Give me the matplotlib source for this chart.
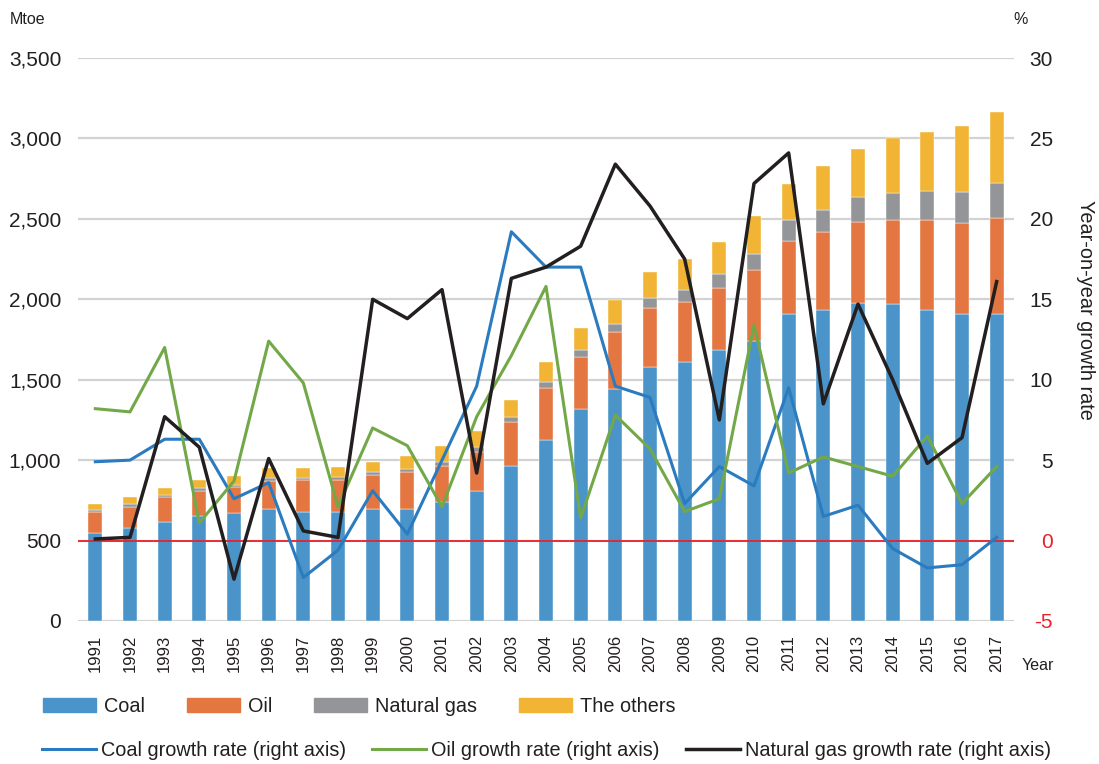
import matplotlib
matplotlib.use("Agg")
import matplotlib.pyplot as plt
from matplotlib.patches import Patch
from matplotlib.lines import Line2D
import numpy as np

plt.rcParams['font.family'] = ['Liberation Sans Narrow', 'Liberation Sans', 'DejaVu Sans']

years = list(range(1991, 2018))

# Primary energy consumption by source (Mtoe)
coal = [550, 580, 615, 655, 670, 694, 680, 676, 696, 698, 738, 806, 962, 1127,
        1318, 1444, 1577, 1610, 1686, 1743, 1908, 1935, 1978, 1969, 1935, 1908, 1908]
oil = [126, 131, 154, 153, 161, 178, 197, 201, 214, 226, 228, 247, 277, 320,
       325, 353, 367, 375, 386, 438, 456, 483, 501, 523, 557, 567, 597]
gas = [14, 16, 14, 17, 15, 15, 14, 16, 14, 21, 21, 27, 31, 37,
       42, 51, 66, 73, 83, 102, 128, 135, 157, 168, 179, 192, 220]
others = [37, 42, 46, 52, 57, 62, 62, 64, 64, 81, 101, 101, 106, 124,
          138, 150, 162, 194, 200, 235, 227, 275, 296, 340, 368, 409, 440]

# Year-on-year growth rates (%)
coal_growth = [4.9, 5.0, 6.3, 6.3, 2.6, 3.6, -2.3, -0.6, 3.1, 0.4, 5.0, 9.6, 19.2, 17.0,
               17.0, 9.6, 8.9, 2.3, 4.6, 3.4, 9.5, 1.5, 2.2, -0.5, -1.7, -1.5, 0.2]
oil_growth = [8.2, 8.0, 12.0, 1.1, 3.7, 12.4, 9.8, 2.1, 7.0, 5.9, 2.1, 7.7, 11.5, 15.8,
              1.4, 7.8, 5.7, 1.8, 2.6, 13.4, 4.2, 5.2, 4.6, 4.0, 6.5, 2.3, 4.6]
gas_growth = [0.1, 0.2, 7.7, 5.8, -2.4, 5.1, 0.6, 0.2, 15.0, 13.8, 15.6, 4.2, 16.3, 17.0,
              18.3, 23.4, 20.8, 17.5, 7.5, 22.2, 24.1, 8.5, 14.7, 10.0, 4.8, 6.4, 16.1]

left_ticks = [0, 500, 1000, 1500, 2000, 2500, 3000, 3500]
right_ticks = [-5, 0, 5, 10, 15, 20, 25, 30]

C_COAL = '#4a94c9'
C_OIL = '#e47641'
C_GAS = '#939598'
C_OTH = '#f1b434'
L_COAL = '#2b7bc0'
L_OIL = '#73a848'
L_GAS = '#231f20'
TXT = '#231f20'
RED = '#e8212b'

W, H = 1099, 764
fig = plt.figure(figsize=(W / 100, H / 100), dpi=100)
ax = fig.add_axes([78 / W, 1 - 621 / H, (1014 - 78) / W, (621 - 58) / H])

x = np.arange(len(years))
bw = 0.4
c = np.array(coal, float)
o = np.array(oil, float)
g = np.array(gas, float)
t = np.array(others, float)
ax.bar(x, c, bw, color=C_COAL, edgecolor='white', linewidth=0.3, zorder=2)
ax.bar(x, o, bw, bottom=c, color=C_OIL, edgecolor='white', linewidth=0.3, zorder=2)
ax.bar(x, g, bw, bottom=c + o, color=C_GAS, edgecolor='white', linewidth=0.3, zorder=2)
ax.bar(x, t, bw, bottom=c + o + g, color=C_OTH, edgecolor='white', linewidth=0.3, zorder=2)

ax.set_xlim(-0.5, len(years) - 0.5)
ax.set_ylim(0, 3500)
ax.set_yticks(left_ticks)
ax.set_yticklabels([f"{v:,}" for v in left_ticks])
ax.yaxis.grid(True, color='#d2d2d2', linewidth=1.6, zorder=0)
ax.set_axisbelow(True)
for s in ax.spines.values():
    s.set_visible(False)
ax.tick_params(axis='y', length=0, pad=12, labelsize=15, labelcolor=TXT)
ax.set_xticks(x)
ax.set_xticklabels([str(y) for y in years], rotation=90)
ax.tick_params(axis='x', length=0, pad=10, labelsize=12, labelcolor=TXT)

ax2 = ax.twinx()
ax2.set_ylim(-5, 30)
ax2.set_yticks(right_ticks)
ax2.set_yticklabels([str(v) for v in right_ticks])
for s in ax2.spines.values():
    s.set_visible(False)
ax2.tick_params(axis='y', length=0, pad=28, labelsize=15, labelcolor=TXT)
for lab, v in zip(ax2.get_yticklabels(), right_ticks):
    lab.set_horizontalalignment('right')
    if v <= 0:
        lab.set_color(RED)
ax2.axhline(0, color=RED, linewidth=1.3, zorder=3)
ax2.plot(x, coal_growth, color=L_COAL, linewidth=2.2, zorder=4)
ax2.plot(x, oil_growth, color=L_OIL, linewidth=2.2, zorder=4)
ax2.plot(x, gas_growth, color=L_GAS, linewidth=2.5, zorder=5)

# Axis titles
fig.text(10 / W, 1 - 20 / H, 'Mtoe', fontsize=11.5, va='center', ha='left', color=TXT)
fig.text(1021 / W, 1 - 20 / H, '%', fontsize=11.5, va='center', ha='center', color=TXT)
fig.text(1022 / W, 1 - 665 / H, 'Year', fontsize=11.5, va='center', ha='left', color=TXT)
fig.text(1086 / W, 1 - 310 / H, 'Year-on-year growth rate', fontsize=14.3, rotation=-90,
         va='center', ha='center', color=TXT)

# Legends
fs = 14.3
em = fs * 100 / 72
bar_handles = [Patch(color=C_COAL), Patch(color=C_OIL), Patch(color=C_GAS), Patch(color=C_OTH)]
bar_labels = ['Coal', 'Oil', 'Natural gas', 'The others']
leg1 = fig.legend(bar_handles, bar_labels, loc='center left',
                  bbox_to_anchor=(43 / W, 1 - 706 / H), ncol=4, frameon=False,
                  fontsize=fs, handlelength=53 / em, handleheight=14 / em,
                  handletextpad=8 / em, columnspacing=42 / em,
                  borderpad=0, borderaxespad=0)
line_handles = [Line2D([], [], color=L_COAL, linewidth=2.2),
                Line2D([], [], color=L_OIL, linewidth=2.2),
                Line2D([], [], color=L_GAS, linewidth=2.5)]
line_labels = ['Coal growth rate (right axis)', 'Oil growth rate (right axis)',
               'Natural gas growth rate (right axis)']
leg2 = fig.legend(line_handles, line_labels, loc='center left',
                  bbox_to_anchor=(42 / W, 1 - 750 / H), ncol=3, frameon=False,
                  fontsize=fs, handlelength=54 / em, handletextpad=5 / em,
                  columnspacing=26 / em, borderpad=0, borderaxespad=0)
for leg in (leg1, leg2):
    for txt in leg.get_texts():
        txt.set_color(TXT)

fig.savefig('out.png', dpi=100)
